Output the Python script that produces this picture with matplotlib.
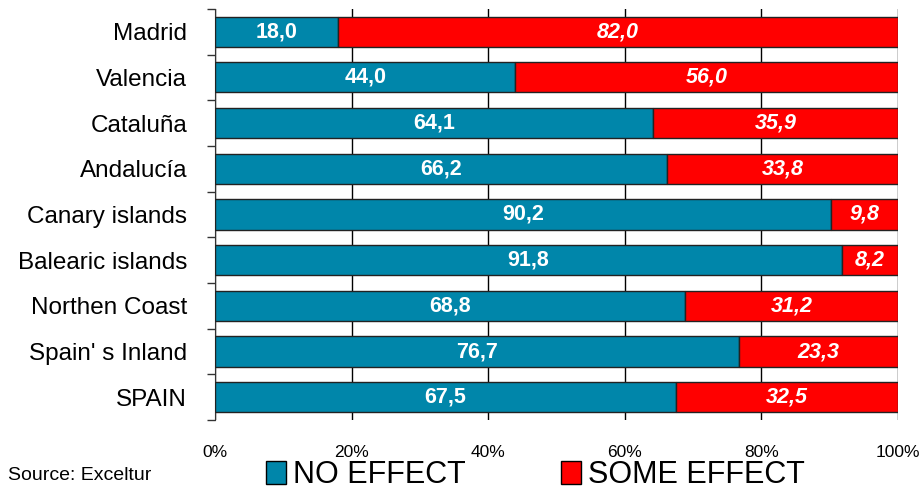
import matplotlib.pyplot as plt
import matplotlib.patches as mpatches
import numpy as np

plt.rcParams['font.family'] = ['Liberation Sans', 'DejaVu Sans']

regions = ['Madrid', 'Valencia', 'Cataluña', 'Andalucía', 'Canary islands',
           'Balearic islands', 'Northen Coast', "Spain' s Inland", 'SPAIN']
no_effect = [18.0, 44.0, 64.1, 66.2, 90.2, 91.8, 68.8, 76.7, 67.5]
some_effect = [82.0, 56.0, 35.9, 33.8, 9.8, 8.2, 31.2, 23.3, 32.5]
x_ticks = [0, 20, 40, 60, 80, 100]
x_labels = ['0%', '20%', '40%', '60%', '80%', '100%']

blue = '#0086AA'
red = '#FF0000'

fig = plt.figure(figsize=(9.2, 4.93), dpi=100)
ax = fig.add_axes([0.2337, 0.148, 0.7423, 0.834])

y = np.arange(len(regions))
h = 0.66
b1 = ax.barh(y, no_effect, h, color=blue, edgecolor='#222222', linewidth=1, zorder=3)
b2 = ax.barh(y, some_effect, h, left=no_effect, color=red, edgecolor='#222222',
             linewidth=1, zorder=3)

for i in range(len(regions)):
    ax.text(no_effect[i] / 2, y[i], ('%.1f' % no_effect[i]).replace('.', ','),
            ha='center', va='center', color='white', fontsize=15.5,
            fontweight='bold', zorder=4)
    ax.text(no_effect[i] + some_effect[i] / 2, y[i],
            ('%.1f' % some_effect[i]).replace('.', ','),
            ha='center', va='center', color='white', fontsize=15.5,
            fontweight='bold', fontstyle='italic', zorder=4)

ax.set_xlim(0, 100)
ax.set_ylim(len(regions) - 0.5, -0.5)

ax.set_xticks(x_ticks)
ax.set_xticklabels(x_labels, fontsize=12.5)
ax.tick_params(axis='x', length=0, pad=18)
ax.grid(axis='x', color='black', linewidth=1, zorder=0)

ax.set_yticks(y)
ax.set_yticklabels(regions, fontsize=17.5)
ax.tick_params(axis='y', which='major', length=0, pad=20)
ax.set_yticks(np.arange(len(regions) + 1) - 0.5, minor=True)
ax.tick_params(axis='y', which='minor', length=6, width=1, color='#333333')

ax.spines['top'].set_visible(False)
ax.spines['bottom'].set_visible(False)
ax.spines['right'].set_visible(False)
ax.spines['left'].set_color('#333333')

handles = [mpatches.Patch(facecolor=blue, edgecolor='black', label='NO EFFECT'),
           mpatches.Patch(facecolor=red, edgecolor='black', label='SOME EFFECT')]
fig.legend(handles=handles, loc='center', bbox_to_anchor=(0.582, 0.036), ncol=2,
           frameon=False, fontsize=22, handlelength=0.65, handleheight=0.75,
           handletextpad=0.25, columnspacing=3.1)

fig.text(0.009, 0.027, 'Source: Exceltur', fontsize=14)

plt.savefig('out.png', dpi=100)
